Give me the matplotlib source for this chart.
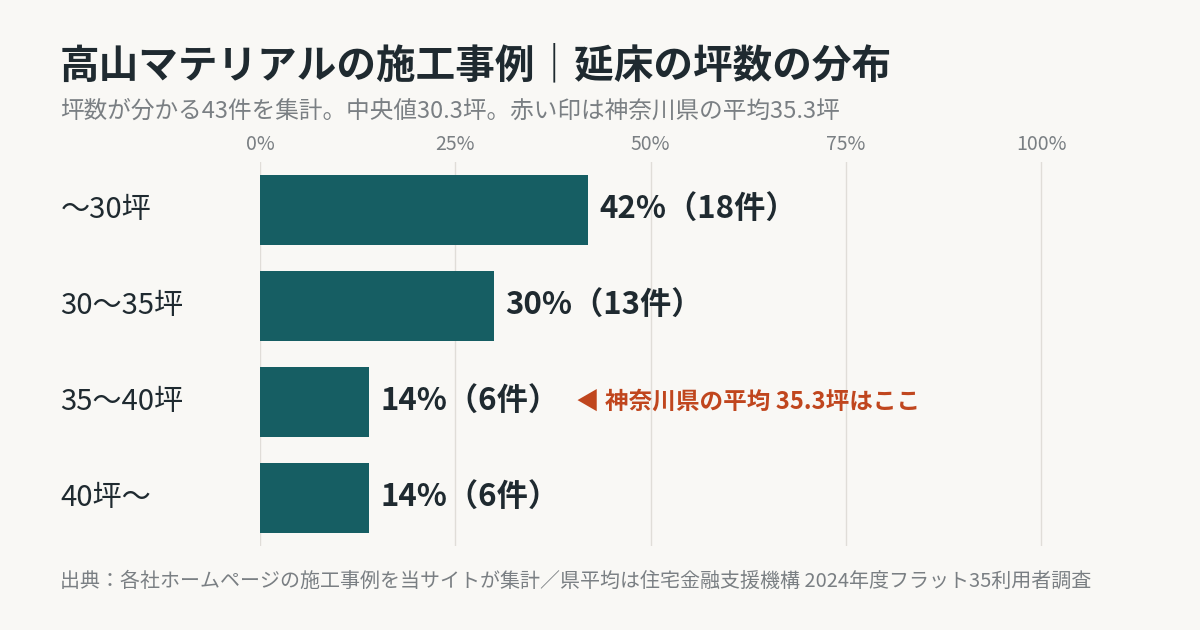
import matplotlib.pyplot as plt

plt.rcParams['font.family'] = ['Noto Sans CJK JP', 'DejaVu Sans']

categories = ["〜30坪", "30〜35坪", "35〜40坪", "40坪〜"]
shares = [42, 30, 14, 14]
counts = [18, 13, 6, 6]
ticks = [0, 25, 50, 75, 100]

bg = "#f9f8f5"
bar_color = "#165e63"
dark = "#1f2a30"
gray = "#7a7f83"
accent = "#c0461e"

fig = plt.figure(figsize=(12, 6.3), dpi=100, facecolor=bg)
ax = fig.add_axes([260 / 1200, 1 - 546 / 630, 783 / 1200, 384 / 630], facecolor=bg)

y = list(range(len(categories)))
ax.barh(y, shares, height=0.73, color=bar_color, zorder=3)
for yi, s, c in zip(y, shares, counts):
    ax.text(s + 1.4, yi, f"{s}%（{c}件）", va="center", ha="left",
            fontsize=22.5, fontweight="bold", color=dark, zorder=4)

ax.text(40.5, 2, "◀ 神奈川県の平均 35.3坪はここ", va="center", ha="left",
        fontsize=17, fontweight="bold", color=accent)

ax.set_xlim(0, 100.25)
ax.set_ylim(3.5, -0.5)
ax.set_xticks(ticks)
ax.set_xticklabels([f"{t}%" for t in ticks], fontsize=14, color=gray)
ax.xaxis.tick_top()
ax.tick_params(axis="x", length=0, pad=5)
ax.grid(axis="x", color="#e0ddd8", linewidth=1, zorder=0)
ax.set_yticks([])
for s in ax.spines.values():
    s.set_visible(False)

for yi, cat in zip(y, categories):
    ax.text(-0.255, yi, cat, transform=ax.get_yaxis_transform(), va="center",
            ha="left", fontsize=21, color=dark)

fig.text(60 / 1200, 1 - 66 / 630, "高山マテリアルの施工事例｜延床の坪数の分布", fontsize=28.5,
         fontweight="bold", color=dark, va="center")
fig.text(60 / 1200, 1 - 111 / 630, "坪数が分かる43件を集計。中央値30.3坪。赤い印は神奈川県の平均35.3坪",
         fontsize=17, color=gray, va="center")
fig.text(60 / 1200, 1 - 581 / 630,
         "出典：各社ホームページの施工事例を当サイトが集計／県平均は住宅金融支援機構 2024年度フラット35利用者調査",
         fontsize=14.4, color=gray, va="center")

fig.savefig("out.png", dpi=100, facecolor=bg)
